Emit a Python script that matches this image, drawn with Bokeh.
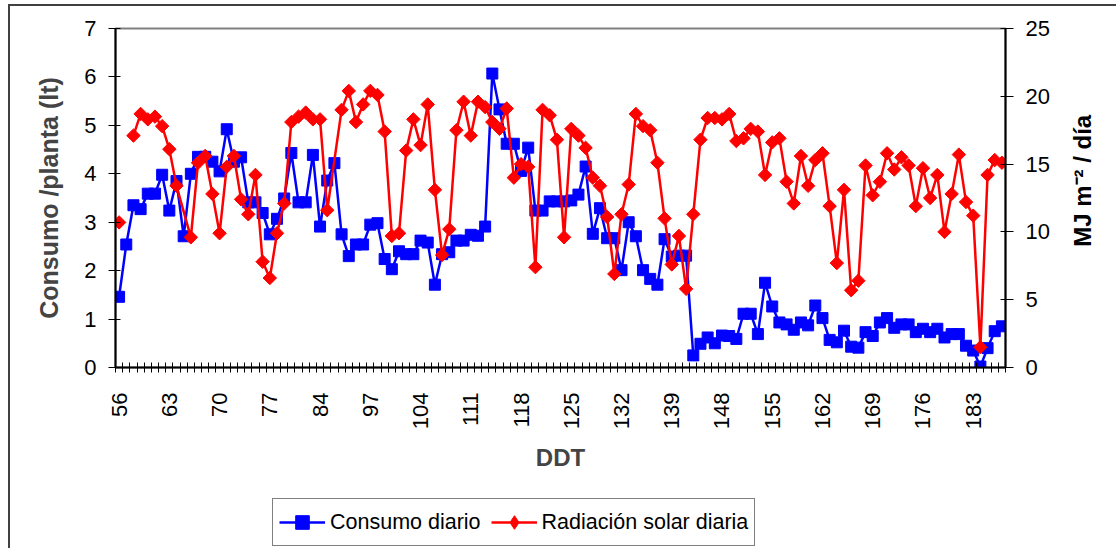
import math
from bokeh.plotting import figure
from bokeh.models import (Range1d, LinearAxis, FixedTicker, Legend, LegendItem,
                          ColumnDataSource, Label)
from bokeh.layouts import column, row
from bokeh.embed import file_html
from bokeh.resources import INLINE

# ---------------- data ----------------
# DDT categories (days after transplant), one per category slot on the x axis
ddt = (list(range(56, 85)) + [86, 88, 90, 92, 94, 96] + list(range(97, 140))
       + [140, 141, 142, 143, 145, 146] + list(range(148, 188)))

# Consumo diario (lt / planta)
consumo = [
    1.46, 2.54, 3.35, 3.27, 3.59, 3.59, 3.98, 3.24, 3.85, 2.71,
    4.00, 4.35, 4.35, 4.25, 4.05, 4.92, 4.25, 4.34, 3.41, 3.41,
    3.19, 2.75, 3.07, 3.49, 4.43, 3.41, 3.41, 4.39, 2.91, 3.86,
    4.22, 2.75, 2.30, 2.54, 2.54, 2.95, 2.98, 2.24, 2.03, 2.40,
    2.34, 2.34, 2.62, 2.58, 1.71, 2.34, 2.38, 2.62, 2.62, 2.74,
    2.72, 2.91, 6.07, 5.33, 4.62, 4.62, 4.06, 4.54, 3.24, 3.24,
    3.43, 3.43, 3.43, 3.45, 3.57, 4.15, 2.76, 3.29, 2.67, 2.67,
    2.01, 3.00, 2.71, 2.01, 1.83, 1.71, 2.65, 2.29, 2.31, 2.31,
    0.25, 0.49, 0.62, 0.50, 0.66, 0.65, 0.59, 1.11, 1.11, 0.69,
    1.75, 1.26, 0.93, 0.89, 0.78, 0.93, 0.87, 1.28, 1.02, 0.57,
    0.52, 0.76, 0.43, 0.41, 0.73, 0.65, 0.93, 1.02, 0.82, 0.89,
    0.89, 0.73, 0.80, 0.73, 0.80, 0.62, 0.69, 0.69, 0.45, 0.35,
    0.02, 0.40, 0.75, 0.85,
]

# Radiación solar diaria (MJ m-2 / día)
# nan = empty cell (line is broken), None = no reading (line joins neighbours)
nan = float("nan")
radiacion = [
    10.7, nan, 17.1, 18.7, 18.3, 18.5, 17.8, 16.1, 13.4, None,
    9.6, 15.1, 15.6, 12.8, 9.9, 14.8, 15.6, 12.4, 11.3, 14.2,
    7.8, 6.6, 9.9, 12.1, 18.1, 18.5, 18.8, 18.3, 18.3, 11.6,
    None, 19.0, 20.4, 18.1, 19.4, 20.4, 20.1, 17.4, 9.7, 9.9,
    16.0, 18.3, 16.4, 19.4, 13.1, 8.3, 10.2, 17.5, 19.6, 17.1,
    19.6, 19.2, 18.1, 17.6, 19.1, 14.0, 15.0, 14.8, 7.4, 19.0,
    18.6, 16.8, 9.6, 17.6, 17.1, 16.2, 14.0, 13.4, 11.1, 6.9,
    11.3, 13.5, 18.7, 17.8, 17.5, 15.1, 11.0, 7.6, 9.7, 5.8,
    11.3, 16.8, 18.4, 18.4, 18.3, 18.7, 16.7, 16.9, 17.6, 17.4,
    14.2, 16.6, 16.9, 13.7, 12.1, 15.6, 13.4, 15.3, 15.8, 11.9,
    7.7, 13.1, 5.7, 6.4, 14.9, 12.7, 13.7, 15.8, 14.6, 15.5,
    14.9, 11.9, 14.7, 12.5, 14.2, 10.0, 12.8, 15.7, 12.2, 11.2,
    1.5, 14.2, 15.3, 15.1,
]

left_ticks = list(range(0, 8))
right_ticks = list(range(0, 26, 5))
label_step = 7
series_names = ["Consumo diario", "Radiación solar diaria"]
axis_titles = ["DDT", "Consumo /planta (lt)", "MJ m\u207b\u00b2 / día"]

# ---------------- styling ----------------
FONT = "Liberation Sans"
BLUE = "#0000FF"
RED = "#FF0000"
n = len(ddt)

W_MAIN, W_SIDE, H_MAIN, H_LEG = 1052, 54, 474, 68

p = figure(width=W_MAIN, height=H_MAIN, output_backend="svg", toolbar_location=None,
           x_range=Range1d(-0.5, n - 0.5), y_range=Range1d(0, 7),
           min_border_left=105, min_border_right=57,
           min_border_top=22, min_border_bottom=113,
           background_fill_color="white", border_fill_color="white")
p.extra_y_ranges = {"rad": Range1d(0, 25)}
p.xgrid.visible = False
p.ygrid.visible = False
p.outline_line_color = "#808080"
p.outline_line_width = 2

# x axis (category axis: labels every 7th category, marks between categories)
xa = p.xaxis[0]
label_idx = list(range(0, n, label_step))
xa.ticker = FixedTicker(ticks=label_idx, minor_ticks=[i - 0.5 for i in range(n + 1)])
xa.major_label_overrides = {i: str(ddt[i]) for i in label_idx}
xa.major_tick_line_color = None
xa.major_tick_in = 0
xa.major_tick_out = 0
xa.minor_tick_line_color = "black"
xa.minor_tick_in = 5
xa.minor_tick_out = 5
xa.axis_line_color = "black"
xa.axis_line_width = 2
xa.major_label_orientation = math.pi / 2
xa.major_label_standoff = 20
xa.major_label_text_font = FONT
xa.major_label_text_font_size = "22px"
xa.major_label_text_color = "black"
xa.axis_label = axis_titles[0]
xa.axis_label_text_font = FONT
xa.axis_label_text_font_style = "bold"
xa.axis_label_text_font_size = "24px"
xa.axis_label_standoff = 12

# left axis
ya = p.yaxis[0]
ya.ticker = FixedTicker(ticks=left_ticks, minor_ticks=[])
ya.major_tick_in = 5
ya.major_tick_out = 7
ya.axis_line_color = "black"
ya.axis_line_width = 2
ya.major_label_standoff = 12
ya.major_label_text_font = FONT
ya.major_label_text_font_size = "22px"
ya.major_label_text_color = "black"
ya.axis_label = axis_titles[1]
ya.axis_label_text_font = FONT
ya.axis_label_text_font_style = "bold"
ya.axis_label_text_font_size = "25px"
ya.axis_label_standoff = 18

# right axis (its title is drawn in the side strip figure)
ra = LinearAxis(y_range_name="rad", ticker=FixedTicker(ticks=right_ticks, minor_ticks=[]))
ra.major_tick_in = 5
ra.major_tick_out = 8
ra.axis_line_color = "black"
ra.axis_line_width = 2
ra.major_label_standoff = 12
ra.major_label_text_font = FONT
ra.major_label_text_font_size = "22px"
ra.major_label_text_color = "black"
p.add_layout(ra, "right")

# ---------------- series ----------------
xs = list(range(n))
src_c = ColumnDataSource(dict(x=xs, y=consumo))
line_x = [i for i, v in enumerate(radiacion) if v is not None]
line_y = [v for v in radiacion if v is not None]
src_r = ColumnDataSource(dict(x=line_x, y=line_y))

line_kw = dict(line_width=2.5)

p.line("x", "y", source=src_c, line_color=BLUE, **line_kw)
p.scatter("x", "y", source=src_c, marker="square", size=11,
          fill_color=BLUE, line_color=BLUE)
p.line("x", "y", source=src_r, y_range_name="rad", line_color=RED, **line_kw)
p.scatter("x", "y", source=src_r, y_range_name="rad", marker="square",
          angle=math.pi / 4, size=9.5, fill_color=RED, line_color=RED)


def strip(width, height):
    f = figure(width=width, height=height, output_backend="svg", toolbar_location=None,
               title=None, x_range=Range1d(0, width), y_range=Range1d(0, height),
               x_axis_location=None, y_axis_location=None,
               min_border_left=0, min_border_right=0,
               min_border_top=0, min_border_bottom=0,
               outline_line_color=None, background_fill_color="white",
               border_fill_color="white")
    f.grid.visible = False
    return f


# ---------------- right-hand axis title ----------------
ps = strip(W_SIDE, H_MAIN)
ps.add_layout(Label(x=20, y=H_MAIN - 213, text=axis_titles[2], angle=math.pi / 2,
                    text_align="center", text_baseline="middle", text_font=FONT,
                    text_font_style="bold", text_font_size="24px", text_color="black"))

# ---------------- legend strip ----------------
pl = strip(W_MAIN + W_SIDE, H_LEG)
off = ColumnDataSource(dict(x=[-50], y=[-50]))  # legend swatches only, outside view
lb = pl.line("x", "y", source=off, line_color=BLUE, **line_kw)
mb = pl.scatter("x", "y", source=off, marker="square", fill_color=BLUE, line_color=BLUE)
lr = pl.line("x", "y", source=off, line_color=RED, **line_kw)
mr = pl.scatter("x", "y", source=off, marker="diamond", fill_color=RED, line_color=RED)
legend = Legend(items=[LegendItem(label=series_names[0], renderers=[lb, mb]),
                       LegendItem(label=series_names[1], renderers=[lr, mr])],
                location=(262, 2), orientation="horizontal",
                border_line_color="black", border_line_width=1,
                background_fill_color="white", background_fill_alpha=1,
                label_text_font=FONT, label_text_font_size="21.5px",
                label_text_color="black",
                glyph_width=46, glyph_height=34, label_standoff=5,
                spacing=10, padding=6, margin=0)
pl.add_layout(legend)

layout = column(row(p, ps, spacing=0), pl, spacing=0,
                styles={"border-top": "2px solid #404040",
                        "border-left": "2px solid #404040",
                        "margin-left": "8px", "margin-top": "4px"})

open("out.html", "w").write(file_html(layout, INLINE))
